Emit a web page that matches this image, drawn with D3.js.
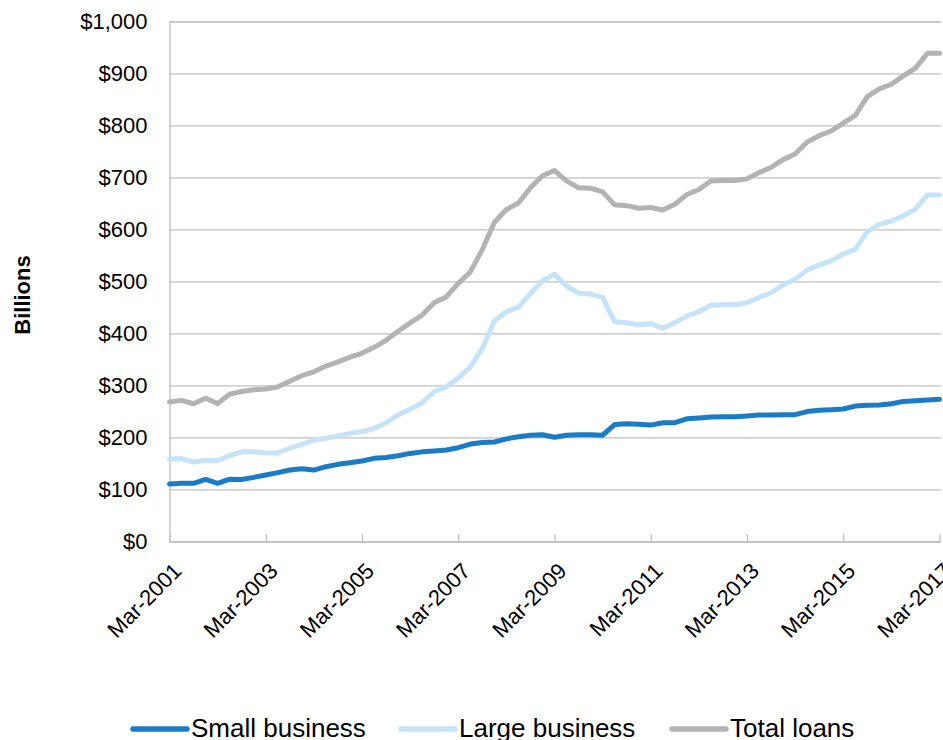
<!DOCTYPE html>
<html>
<head>
<meta charset="utf-8">
<script src="https://cdn.jsdelivr.net/npm/d3@7"></script>
<style>
  html, body { margin: 0; padding: 0; background: #fff; }
  svg { display: block; font-family: "Liberation Sans", Arial, sans-serif; }
</style>
</head>
<body>
<div id="chart"></div>
<script>
// quarterly, Mar-2001 .. Mar-2017 (65 quarters), $ billions
const tickLabels = ["Mar-2001", "Mar-2003", "Mar-2005", "Mar-2007", "Mar-2009",
  "Mar-2011", "Mar-2013", "Mar-2015", "Mar-2017"];

const smallBusiness = [
  110, 111.5, 111.5, 119, 111.5, 119.5, 119, 123, 127.5, 132,
  137, 139.5, 137, 143.5, 148, 151, 154.5, 159.5, 161, 164.5,
  169, 172, 173.5, 175.5, 180, 187, 190, 191, 197, 201,
  204, 205, 200, 204, 205, 205, 204, 224.5, 226, 225,
  223.5, 228, 228, 235.5, 237, 239, 239.5, 239.5, 241, 243,
  243, 243.5, 243.5, 249.5, 252, 253, 254.5, 260, 261.5, 262,
  264.5, 269, 270.5, 271.5, 273
];

const largeBusiness = [
  158, 159, 152.5, 156, 155, 165, 172, 172, 170, 170,
  179, 186.5, 194.5, 198, 202.5, 207.5, 211, 217, 228, 243,
  254, 266.5, 287.5, 297, 314, 335, 371, 424, 441.5, 450,
  477, 500.5, 513.5, 491, 477, 475.5, 469, 422, 420.5, 416.5,
  418.5, 409.5, 420.5, 433, 441.5, 454, 455, 455, 459, 469,
  478, 493, 504, 521.5, 531, 539.5, 552.5, 561.5, 595.5, 609.5,
  616, 626, 639, 666, 666
];

const totalLoans = [
  268, 271, 264.5, 275, 265, 283, 288, 291.5, 293, 297,
  308, 318.5, 326, 337, 345, 354, 361.5, 373, 386.5, 404,
  420, 435, 459, 470, 496, 518, 561, 613, 638, 650.5,
  680, 703, 713, 693, 680, 679, 672, 647, 645.5, 640.5,
  642, 637, 648, 667, 676.5, 693, 694, 694, 697, 709,
  719, 734, 745, 768, 780, 789, 804, 819, 855, 870,
  879, 895, 910, 938.5, 938.5
];

const yTicks = [0, 100, 200, 300, 400, 500, 600, 700, 800, 900, 1000];

const series = [
  { name: "Total loans", values: totalLoans, color: "#b3b3b3" },
  { name: "Large business", values: largeBusiness, color: "#c6e3f8" },
  { name: "Small business", values: smallBusiness, color: "#1a7cc6" }
];
const legendItems = [
  { name: "Small business", color: "#1a7cc6", x: 133 },
  { name: "Large business", color: "#c6e3f8", x: 401 },
  { name: "Total loans", color: "#b3b3b3", x: 672 }
];

const width = 943, height = 740;
const plotLeft = 169.5, plotRight = 939.5, plotTop = 21.3, plotBottom = 541.3;
const gridColor = "#bfbfbf";

const x = d3.scaleLinear().domain([0, smallBusiness.length - 1]).range([plotLeft, plotRight]);
const y = d3.scaleLinear().domain([0, 1000]).range([plotBottom, plotTop]);

const svg = d3.select("#chart").append("svg")
  .attr("width", width)
  .attr("height", height);

// y axis + gridlines
const yAxis = svg.append("g")
  .attr("transform", `translate(${plotLeft},0)`)
  .call(d3.axisLeft(y)
    .tickValues(yTicks)
    .tickSize(-(plotRight - plotLeft + 1.5))
    .tickPadding(22)
    .tickFormat(d => "$" + d3.format(",")(d)));
yAxis.select(".domain").attr("stroke", gridColor).attr("stroke-width", 1.3);
yAxis.selectAll(".tick line").attr("stroke", gridColor).attr("stroke-width", 1.3);
yAxis.selectAll(".tick text")
  .attr("font-size", 22)
  .attr("fill", "#000")
  .attr("font-family", "Liberation Sans, Arial, sans-serif");

// x axis
const xAxis = svg.append("g")
  .attr("transform", `translate(0,${plotBottom})`)
  .call(d3.axisBottom(x)
    .tickValues(d3.range(0, smallBusiness.length, 8))
    .tickSize(-7)
    .tickSizeOuter(0)
    .tickFormat((d, i) => tickLabels[i]));
xAxis.select(".domain").attr("stroke", gridColor).attr("stroke-width", 1.3);
xAxis.selectAll(".tick line").attr("stroke", gridColor).attr("stroke-width", 1.3);
xAxis.selectAll(".tick text")
  .attr("font-size", 22)
  .attr("fill", "#000")
  .attr("font-family", "Liberation Sans, Arial, sans-serif")
  .attr("text-anchor", "end")
  .attr("y", 0)
  .attr("dy", 0)
  .attr("transform", "translate(13,31) rotate(-45)");

// y title
svg.append("text")
  .attr("transform", `translate(30,295) rotate(-90)`)
  .attr("text-anchor", "middle")
  .attr("font-size", 22)
  .attr("font-weight", "bold")
  .text("Billions");

// lines
const line = d3.line()
  .x((d, i) => x(i))
  .y(d => y(d));

svg.append("g")
  .selectAll("path")
  .data(series)
  .join("path")
  .attr("d", d => line(d.values))
  .attr("fill", "none")
  .attr("stroke", d => d.color)
  .attr("stroke-width", 5)
  .attr("stroke-linejoin", "round")
  .attr("stroke-linecap", "round");

// legend
const legend = svg.append("g")
  .selectAll("g")
  .data(legendItems)
  .join("g")
  .attr("transform", d => `translate(${d.x},729)`);
legend.append("line")
  .attr("x1", 0).attr("x2", 54)
  .attr("stroke", d => d.color)
  .attr("stroke-width", 5.5)
  .attr("stroke-linecap", "round");
legend.append("text")
  .attr("x", 58)
  .attr("y", 8)
  .attr("font-size", 26)
  .text(d => d.name);
</script>
</body>
</html>
